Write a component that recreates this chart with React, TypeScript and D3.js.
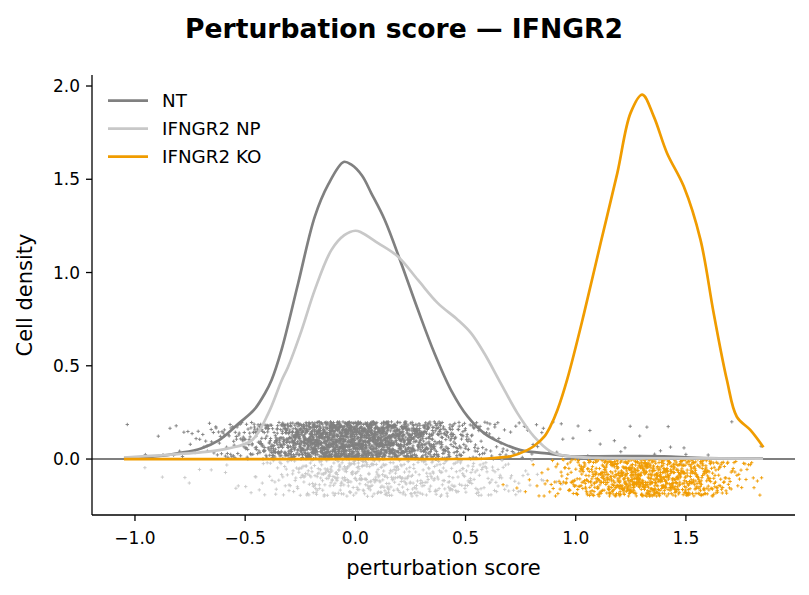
import * as d3 from "d3";
import { useMemo } from "react";

// density curves (x = perturbation score, y = cell density)
const ntX = [-1.05, -0.9, -0.8, -0.7, -0.62, -0.53, -0.46, -0.41, -0.38, -0.335, -0.26, -0.184, -0.124, -0.053, -0.018, 0.03, 0.072, 0.133, 0.208, 0.284, 0.359, 0.434, 0.51, 0.585, 0.66, 0.75, 0.887, 0.977, 1.1, 1.25, 1.4, 1.55, 1.7, 1.85];
const ntY = [0.005, 0.015, 0.032, 0.057, 0.1, 0.19, 0.263, 0.353, 0.424, 0.585, 0.94, 1.3, 1.47, 1.593, 1.578, 1.52, 1.426, 1.283, 1.05, 0.8, 0.567, 0.37, 0.227, 0.138, 0.088, 0.048, 0.028, 0.014, 0.015, 0.016, 0.015, 0.007, 0.004, 0.004];

const npX = [-1.05, -0.89, -0.667, -0.576, -0.47, -0.395, -0.335, -0.305, -0.244, -0.184, -0.109, -0.05, 0.0, 0.027, 0.103, 0.193, 0.284, 0.374, 0.465, 0.525, 0.585, 0.66, 0.736, 0.811, 0.887, 0.962, 1.1, 1.4, 1.85];
const npY = [0.008, 0.02, 0.04, 0.057, 0.1, 0.245, 0.42, 0.495, 0.69, 0.907, 1.12, 1.2, 1.224, 1.215, 1.158, 1.086, 0.96, 0.836, 0.746, 0.675, 0.567, 0.406, 0.245, 0.12, 0.04, 0.016, 0.006, 0.004, 0.002];

const koX = [-1.05, 0.4, 0.55, 0.6, 0.661, 0.706, 0.78, 0.811, 0.857, 0.887, 0.917, 0.962, 1.038, 1.113, 1.189, 1.249, 1.302, 1.354, 1.414, 1.49, 1.566, 1.626, 1.686, 1.731, 1.792, 1.852];
const koY = [0.0, 0.0, 0.001, 0.003, 0.009, 0.015, 0.048, 0.07, 0.12, 0.18, 0.263, 0.43, 0.782, 1.158, 1.534, 1.856, 1.954, 1.837, 1.641, 1.462, 1.176, 0.782, 0.424, 0.227, 0.156, 0.063];

// approximate number of cells per group (dots under the curves)
const cellCounts = [2200, 550, 950];
const groupNames = ["NT", "IFNGR2 NP", "IFNGR2 KO"];
const groupColors = ["#808080", "#c8c8c8", "#f09c00"];
// jitter band of the dots for each group
const jitterBands = [
  [0.0, 0.2],
  [-0.2, 0.0],
  [-0.2, 0.0],
];

const xTicks = [-1.0, -0.5, 0.0, 0.5, 1.0, 1.5];
const yTicks = [0.0, 0.5, 1.0, 1.5, 2.0];

const W = 809;
const H = 595;
const margin = { top: 75, right: 14, bottom: 80, left: 92 };
const font = "DejaVu Sans, sans-serif";

// deterministic hash in [0,1) used only for dot jitter
function hash(i: number, seed: number) {
  const s = Math.sin(i * 12.9898 + seed * 78.233) * 43758.5453;
  return s - Math.floor(s);
}

// place cells along x following the read density (inverse cdf)
function cellPositions(xs: number[], ys: number[], n: number, seed: number) {
  const interp = d3.scaleLinear().domain(xs).range(ys).clamp(true);
  const grid = d3.range(601).map((k) => xs[0] + ((xs[xs.length - 1] - xs[0]) * k) / 600);
  const cum = [0];
  for (let k = 1; k < grid.length; k++) {
    cum.push(cum[k - 1] + ((interp(grid[k]) + interp(grid[k - 1])) / 2) * (grid[k] - grid[k - 1]));
  }
  const total = cum[cum.length - 1];
  const inv = d3.scaleLinear().domain(cum.map((c) => c / total)).range(grid);
  return d3.range(n).map((i) => ({
    x: inv((i + hash(i, seed)) / n),
    j: hash(i, seed + 17.3),
  }));
}

export default function App() {
  const innerW = W - margin.left - margin.right;
  const innerH = H - margin.top - margin.bottom;

  const x = d3.scaleLinear().domain([-1.195, 1.995]).range([0, innerW]);
  const y = d3.scaleLinear().domain([-0.3, 2.059]).range([innerH, 0]);

  const series = [
    { xs: ntX, ys: ntY },
    { xs: npX, ys: npY },
    { xs: koX, ys: koY },
  ];

  const line = d3
    .line<[number, number]>()
    .x((d) => x(d[0]))
    .y((d) => y(d[1]))
    .curve(d3.curveCatmullRom.alpha(0.5));

  const dotPaths = useMemo(
    () =>
      series.map((s, gi) => {
        const pts = cellPositions(s.xs, s.ys, cellCounts[gi], gi * 3.1 + 1);
        const [lo, hi] = jitterBands[gi];
        const a = 1.7;
        return pts
          .map((p) => {
            const px = x(p.x);
            const py = y(lo + (hi - lo) * p.j);
            return `M${(px - a).toFixed(1)},${py.toFixed(1)}h${2 * a}M${px.toFixed(1)},${(py - a).toFixed(1)}v${2 * a}`;
          })
          .join("");
      }),
    []
  );

  const fmt = (v: number) => d3.format(".1f")(v).replace("-", "\u2212");

  return (
    <div style={{ position: "absolute", left: 0, top: 0 }}>
      <svg width={W} height={H} style={{ display: "block", background: "#fff" }} fontFamily={font}>
        <text x={404} y={37.5} textAnchor="middle" fontSize={26.6} fontWeight="bold" fill="#000">
          Perturbation score — IFNGR2
        </text>
        <g transform={`translate(${margin.left},${margin.top})`}>
          {/* zero line */}
          <line x1={0} x2={innerW} y1={y(0)} y2={y(0)} stroke="#000" strokeWidth={1.1} />

          {/* cells */}
          {dotPaths.map((d, gi) => (
            <path key={gi} d={d} stroke={groupColors[gi]} strokeWidth={0.9} fill="none" />
          ))}

          {/* density curves */}
          {series.map((s, gi) => (
            <path
              key={gi}
              d={line(s.xs.map((v, k) => [v, s.ys[k]] as [number, number])) || ""}
              fill="none"
              stroke={groupColors[gi]}
              strokeWidth={2.7}
              strokeLinejoin="round"
              strokeLinecap="butt"
            />
          ))}

          {/* axes */}
          <line x1={0} x2={0} y1={0} y2={innerH} stroke="#000" strokeWidth={1.3} />
          <line x1={0} x2={innerW} y1={innerH} y2={innerH} stroke="#000" strokeWidth={1.3} />
          {xTicks.map((t) => (
            <g key={t} transform={`translate(${x(t)},${innerH})`}>
              <line y1={0} y2={6} stroke="#000" strokeWidth={1.3} />
              <text y={28.5} textAnchor="middle" fontSize={17} fill="#000">
                {fmt(t)}
              </text>
            </g>
          ))}
          {yTicks.map((t) => (
            <g key={t} transform={`translate(0,${y(t)})`}>
              <line x1={0} x2={-6} stroke="#000" strokeWidth={1.3} />
              <text x={-12} y={6.2} textAnchor="end" fontSize={17} fill="#000">
                {fmt(t)}
              </text>
            </g>
          ))}
          <text x={innerW / 2} y={innerH + 60} textAnchor="middle" fontSize={21} fill="#000">
            perturbation score
          </text>
          <text transform={`translate(${32 - margin.left},${innerH / 2}) rotate(-90)`} textAnchor="middle" fontSize={21} fill="#000">
            Cell density
          </text>

          {/* legend */}
          {groupNames.map((name, gi) => (
            <g key={name} transform={`translate(16,${25.7 + gi * 28})`}>
              <line x1={0} x2={40} stroke={groupColors[gi]} strokeWidth={2.7} />
              <text x={54} y={6.7} fontSize={18.3} fill="#000">
                {name}
              </text>
            </g>
          ))}
        </g>
      </svg>
    </div>
  );
}
